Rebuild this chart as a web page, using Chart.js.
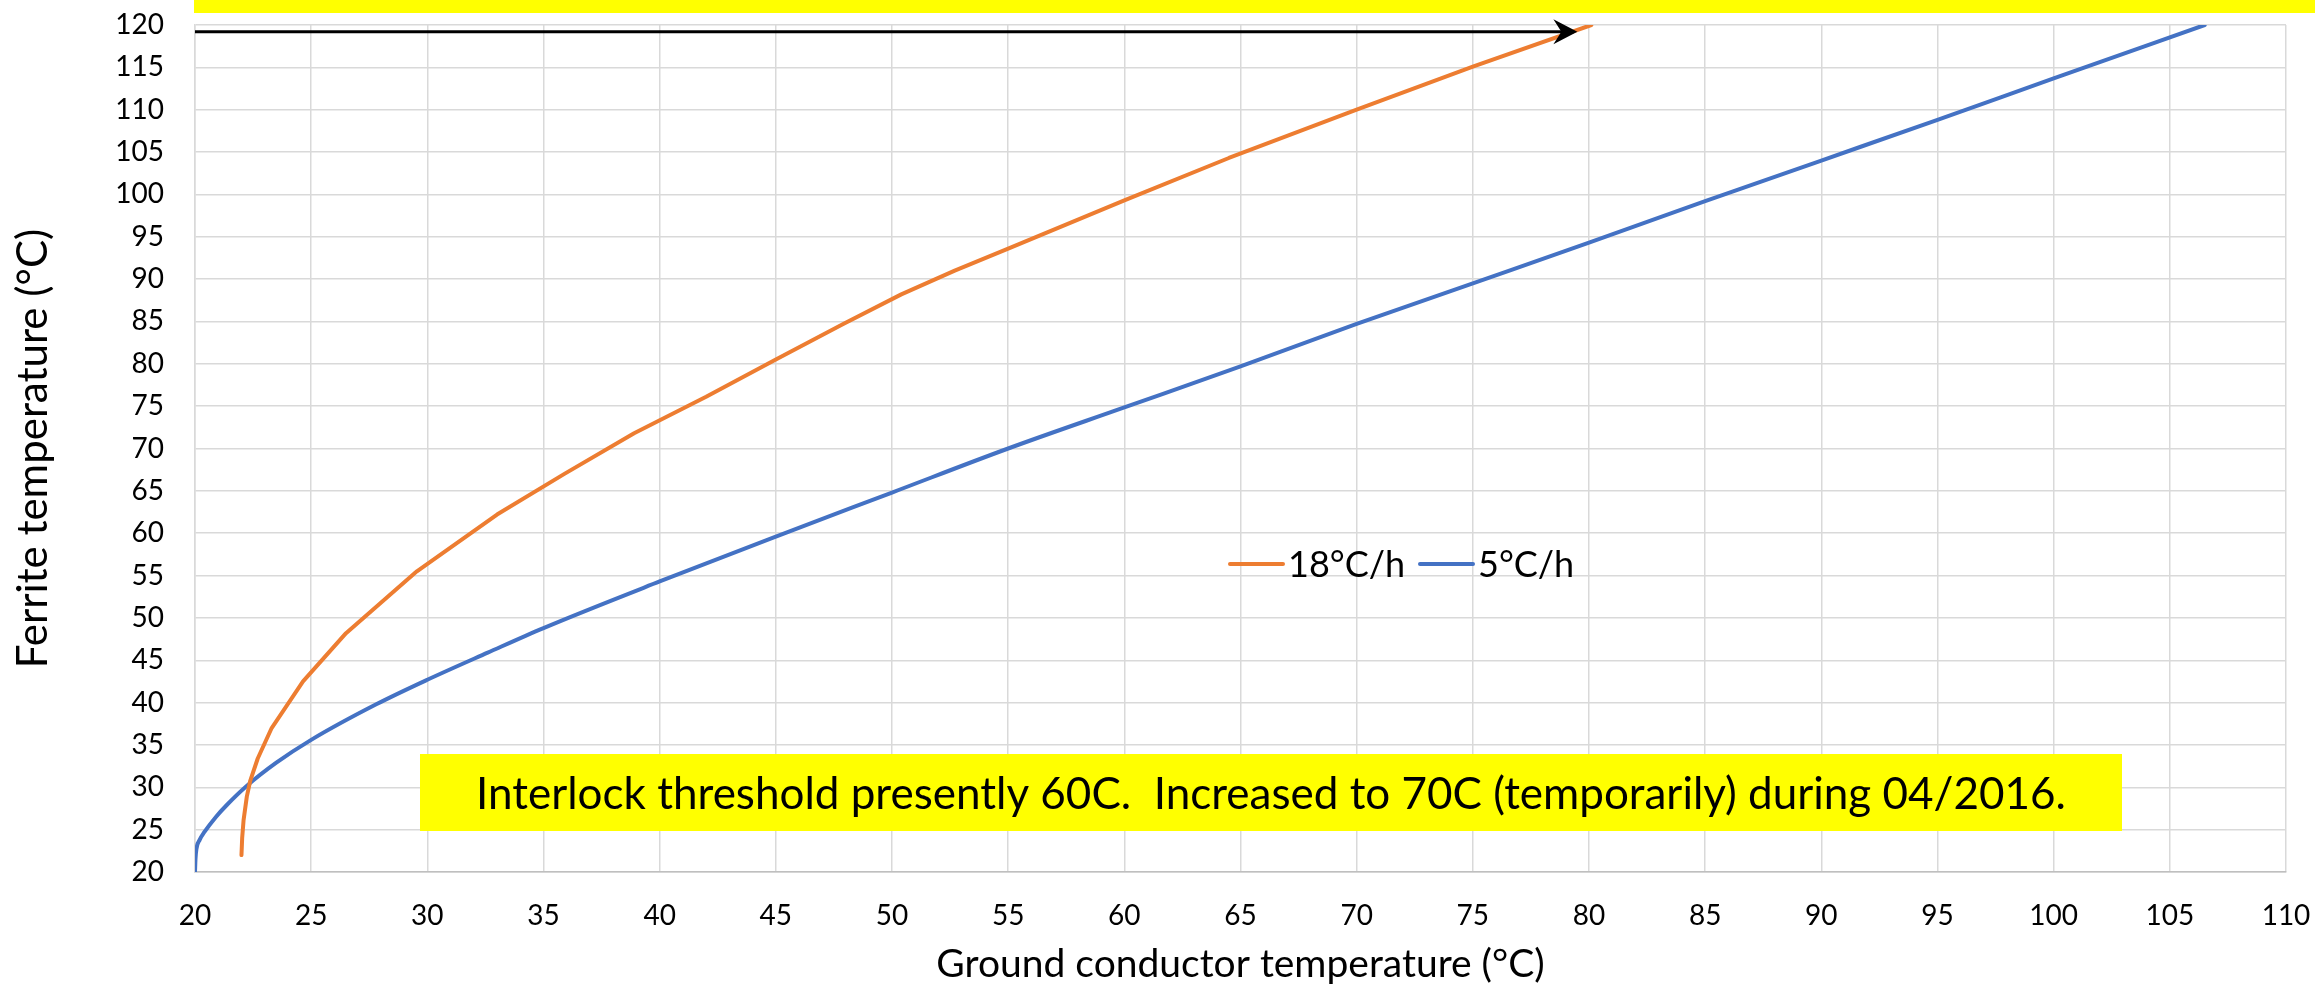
<!DOCTYPE html>
<html>
<head>
<meta charset="utf-8">
<script src="https://cdn.jsdelivr.net/npm/chart.js@4.4.1/dist/chart.umd.min.js"></script>
<style>
  html, body { margin: 0; padding: 0; background: #ffffff; overflow: hidden; }
  canvas { display: block; }
</style>
</head>
<body>
<canvas id="chart" width="2315" height="988"></canvas>
<script>
// Ferrite temperature against ground conductor temperature for two heating ramps
const seriesNames = ['18°C/h', '5°C/h'];
const seriesColors = ['#ED7D31', '#4472C4'];

// 18°C/h ramp
const ramp18X = [22.0, 22.03, 22.09, 22.23, 22.38, 22.7, 23.3, 24.65, 26.5, 29.55, 33.0, 35.9, 38.9, 42.0, 45.0, 47.9, 50.4, 52.7, 55.0, 60.0, 64.5, 70.0, 75.0, 80.1];
const ramp18Y = [22.0, 24.0, 26.1, 28.9, 30.8, 33.4, 37.0, 42.5, 48.2, 55.5, 62.2, 67.0, 71.8, 76.1, 80.5, 84.7, 88.2, 91.0, 93.6, 99.3, 104.3, 110.0, 115.1, 120.0];

// 5°C/h ramp
const ramp5X = [20.0, 20.02, 20.06, 20.2, 20.4, 20.9, 21.4, 22.2, 23.5, 25.0, 27.8, 30.0, 32.6, 35.0, 40.0, 45.0, 50.0, 55.0, 60.0, 65.0, 70.0, 75.0, 80.0, 85.0, 90.0, 95.0, 100.0, 106.5];
const ramp5Y = [20.0, 21.5, 22.7, 23.8, 24.7, 26.5, 28.0, 30.1, 32.9, 35.6, 39.8, 42.7, 45.9, 48.8, 54.3, 59.6, 64.8, 70.0, 74.85, 79.7, 84.7, 89.5, 94.3, 99.2, 104.0, 108.8, 113.7, 120.0];

const xTickValues = [20, 25, 30, 35, 40, 45, 50, 55, 60, 65, 70, 75, 80, 85, 90, 95, 100, 105, 110];
const yTickValues = [20, 25, 30, 35, 40, 45, 50, 55, 60, 65, 70, 75, 80, 85, 90, 95, 100, 105, 110, 115, 120];

const xTitle = 'Ground conductor temperature (°C)';
const yTitle = 'Ferrite temperature (°C)';
const noteText = 'Interlock threshold presently 60C.  Increased to 70C (temporarily) during 04/2016.';

// Arrow marking the 120°C limit, in data units
const arrowFrom = { x: 20, y: 119.2 };
const arrowTo = { x: 79.5, y: 119.2 };

const FONT = 'Lato, "Open Sans", "DejaVu Sans", sans-serif';
const GRID = '#D9D9D9';

function toPoints(xs, ys) {
  return xs.map((x, i) => ({ x: x, y: ys[i] }));
}

// keep tick-label overhang from shrinking the plot area
function noOverhang(scale) {
  scale.paddingTop = 0;
  scale.paddingBottom = 0;
  scale.paddingLeft = 0;
  scale.paddingRight = 0;
}

// Yellow banner, limit arrow, note box and the in-plot legend
const overlays = {
  id: 'overlays',
  afterDatasetsDraw(chart) {
    const ctx = chart.ctx;
    const xs = chart.scales.x, ys = chart.scales.y;
    ctx.save();

    // banner strip along the top edge
    ctx.fillStyle = '#FFFF00';
    ctx.fillRect(194, 0, 2315 - 194, 13);

    // limit arrow
    const x0 = xs.getPixelForValue(arrowFrom.x);
    const y0 = ys.getPixelForValue(arrowFrom.y);
    const x1 = xs.getPixelForValue(arrowTo.x);
    const y1 = ys.getPixelForValue(arrowTo.y);
    ctx.strokeStyle = '#000000';
    ctx.lineWidth = 3;
    ctx.beginPath();
    ctx.moveTo(x0, y0);
    ctx.lineTo(x1 - 14, y1);
    ctx.stroke();
    ctx.fillStyle = '#000000';
    ctx.beginPath();
    ctx.moveTo(x1, y1);
    ctx.lineTo(x1 - 24, y1 - 12.5);
    ctx.lineTo(x1 - 16, y1);
    ctx.lineTo(x1 - 24, y1 + 12.5);
    ctx.closePath();
    ctx.fill();

    // note box
    ctx.fillStyle = '#FFFF00';
    ctx.fillRect(420, 754, 2122 - 420, 831 - 754);
    ctx.fillStyle = '#000000';
    ctx.font = '44px ' + FONT;
    ctx.textAlign = 'center';
    ctx.textBaseline = 'alphabetic';
    ctx.fillText(noteText, 1271, 809);

    // legend
    const items = chart.data.datasets;
    const legendX = [1230, 1420];
    ctx.font = '36px ' + FONT;
    ctx.textAlign = 'left';
    items.forEach((ds, i) => {
      const lx = legendX[i];
      ctx.strokeStyle = ds.borderColor;
      ctx.lineWidth = 4;
      ctx.lineCap = 'round';
      ctx.beginPath();
      ctx.moveTo(lx, 564);
      ctx.lineTo(lx + 53, 564);
      ctx.stroke();
      ctx.fillStyle = '#000000';
      ctx.fillText(ds.label, lx + 58, 577);
    });

    ctx.restore();
  }
};

new Chart(document.getElementById('chart'), {
  type: 'scatter',
  data: {
    datasets: [
      {
        label: seriesNames[0],
        data: toPoints(ramp18X, ramp18Y),
        showLine: true,
        borderColor: seriesColors[0],
        backgroundColor: seriesColors[0],
        borderWidth: 4,
        pointRadius: 0,
        tension: 0,
        borderCapStyle: 'round',
        borderJoinStyle: 'round'
      },
      {
        label: seriesNames[1],
        data: toPoints(ramp5X, ramp5Y),
        showLine: true,
        borderColor: seriesColors[1],
        backgroundColor: seriesColors[1],
        borderWidth: 4,
        pointRadius: 0,
        cubicInterpolationMode: 'monotone',
        borderCapStyle: 'round',
        borderJoinStyle: 'round'
      }
    ]
  },
  options: {
    responsive: false,
    animation: false,
    devicePixelRatio: 1,
    layout: { padding: { left: 0, top: 25, right: 29, bottom: 0 } },
    plugins: {
      legend: { display: false },
      tooltip: { enabled: false },
      title: { display: false }
    },
    scales: {
      x: {
        type: 'linear',
        min: 20,
        max: 110,
        afterBuildTicks: (scale) => { scale.ticks = xTickValues.map(v => ({ value: v })); },
        afterFit: (scale) => { scale.height = 116; noOverhang(scale); },
        grid: { color: GRID, lineWidth: 1.5, drawTicks: false },
        border: { color: '#BFBFBF', width: 1.5 },
        ticks: {
          padding: 27,
          color: '#000000',
          font: { family: FONT, size: 28 },
          maxRotation: 0,
          autoSkip: false
        },
        title: {
          display: true,
          text: xTitle,
          color: '#000000',
          font: { family: FONT, size: 39 },
          padding: { top: 0, bottom: 0 }
        }
      },
      y: {
        type: 'linear',
        min: 20,
        max: 120,
        afterBuildTicks: (scale) => { scale.ticks = yTickValues.map(v => ({ value: v })); },
        afterFit: (scale) => { scale.width = 195; noOverhang(scale); },
        grid: { color: GRID, lineWidth: 1.5, drawTicks: false },
        border: { color: GRID, width: 1.5 },
        ticks: {
          padding: 31,
          color: '#000000',
          font: { family: FONT, size: 28 },
          autoSkip: false
        },
        title: {
          display: true,
          text: yTitle,
          color: '#000000',
          font: { family: FONT, size: 42 },
          padding: { top: 8, bottom: 0 }
        }
      }
    }
  },
  plugins: [overlays]
});
</script>
</body>
</html>
